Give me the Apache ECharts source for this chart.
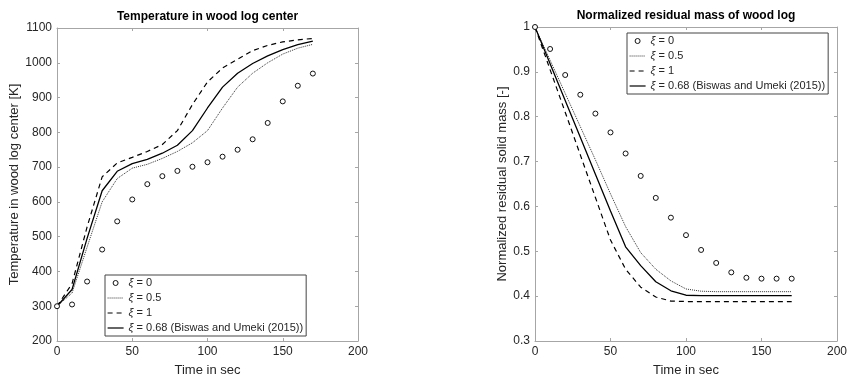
<!DOCTYPE html>
<html>
<head>
<meta charset="utf-8">
<script src="https://cdn.jsdelivr.net/npm/echarts@6/dist/echarts.min.js"></script>
<style>
html,body{margin:0;padding:0;background:#fff;}
#chart{width:850px;height:382px;}
</style>
</head>
<body>
<div id="chart"></div>
<script>
// ---- data ----
var time = [0,10,20,30,40,50,60,70,80,90,100,110,120,130,140,150,160,170];
var seriesNames = ['ξ = 0','ξ = 0.5','ξ = 1','ξ = 0.68 (Biswas and Umeki (2015))'];
var titles = ['Temperature in wood log center','Normalized residual mass of wood log'];
var xAxisName = 'Time in sec';
var yAxisNames = ['Temperature in wood log center [K]','Normalized residual solid mass [-]'];

var tempXi0   = [300,305,371,463,544,607,651,674,689,701,714,730,750,780,827,889,934,969];
var tempXi05  = [300,338,470,600,667,697,708,725,745,770,805,870,930,970,1000,1025,1042,1053];
var tempXi1   = [300,365,528,672,712,728,745,765,805,880,945,985,1010,1035,1050,1060,1066,1070];
var tempXi068 = [300,348,495,632,688,710,722,740,763,805,870,930,970,998,1020,1038,1052,1062];

var massXi0   = [1.0,0.951,0.893,0.849,0.807,0.765,0.718,0.668,0.619,0.575,0.536,0.503,0.474,0.453,0.441,0.439,0.439,0.439];
var massXi05  = [1.0,0.926,0.852,0.778,0.704,0.628,0.555,0.497,0.46,0.434,0.416,0.411,0.41,0.41,0.41,0.41,0.41,0.41];
var massXi1   = [1.0,0.905,0.81,0.715,0.62,0.525,0.46,0.42,0.398,0.389,0.388,0.388,0.388,0.388,0.388,0.388,0.388,0.388];
var massXi068 = [1.0,0.918,0.836,0.754,0.672,0.59,0.51,0.468,0.432,0.412,0.402,0.401,0.401,0.401,0.401,0.401,0.401,0.401];

var xRange = [0, 200, 50];
var tempRange = [200, 1100, 100];
var massRange = [0.3, 1, 0.1];

// ---- helpers ----
var FONT = 'Liberation Sans, Arial, Helvetica, sans-serif';
var AXIS_COLOR = '#a6a6a6';
var TEXT_COLOR = '#262626';

function pairs(arr){ return time.map(function(t,i){ return [t, arr[i]]; }); }

function axis(gridIndex, position, range, showLabel, extra){
  var a = {
    type:'value', gridIndex:gridIndex, position:position,
    min:range[0], max:range[1], interval:range[2],
    axisLine:{show:true, onZero:false, lineStyle:{color:AXIS_COLOR, width:1}},
    axisTick:{show:true, inside:true, length:3, lineStyle:{color:AXIS_COLOR}},
    axisLabel:{show:showLabel, color:TEXT_COLOR, fontSize:12, fontFamily:FONT, margin:5,
      formatter:function(v){ return String(Math.round(v*1000)/1000); }},
    splitLine:{show:false}
  };
  for (var k in extra) a[k] = extra[k];
  return a;
}

function titleAxis(gridIndex, range, title){
  return axis(gridIndex, 'top', range, false, {
    name:title, nameLocation:'middle', nameGap:5,
    nameTextStyle:{fontSize:12, fontWeight:'bold', color:'#000', fontFamily:FONT}
  });
}

function scatterSeries(name, arr, xi, yi){
  return {type:'scatter', name:name, xAxisIndex:xi, yAxisIndex:yi, data:pairs(arr),
    symbol:'circle', symbolSize:5,
    itemStyle:{color:'#fff', borderColor:'#111', borderWidth:1, opacity:1}, z:3};
}
function lineSeries(name, arr, xi, yi, ls){
  return {type:'line', name:name, xAxisIndex:xi, yAxisIndex:yi, data:pairs(arr),
    symbol:'none', showSymbol:false, lineStyle:ls, itemStyle:{color:ls.color}, z:2};
}

var dottedStyle = {color:'#333', width:1, type:[1,1]};
var dashedStyle = {color:'#000', width:1.2, type:[5,4]};
var solidStyle  = {color:'#000', width:1.3, type:'solid'};

function legendAt(left, top){
  var hidden = {color:'rgba(0,0,0,0)', borderWidth:0, opacity:0};
  return {
    left:left, top:top, orient:'vertical',
    data:[
      {name:seriesNames[0], itemStyle:{color:'#fff', borderColor:'#111', borderWidth:1}},
      {name:seriesNames[1], itemStyle:hidden, lineStyle:{width:1, color:'#333', type:[1,1]}},
      {name:seriesNames[2], itemStyle:hidden, lineStyle:{width:1, color:'#000', type:[5,4]}},
      {name:seriesNames[3], itemStyle:hidden, lineStyle:{width:1.2, color:'#000', type:'solid'}}
    ],
    itemWidth:16, itemHeight:5, itemGap:1,
    padding:[1,3,1,2],
    borderColor:'#444', borderWidth:1, backgroundColor:'#fff',
    selectedMode:false,
    textStyle:{fontSize:11, color:TEXT_COLOR, fontFamily:FONT, lineHeight:14,
      rich:{i:{fontStyle:'italic', fontSize:11, color:TEXT_COLOR, fontFamily:FONT, lineHeight:14},
            n:{fontSize:11, color:TEXT_COLOR, fontFamily:FONT, lineHeight:14}}},
    formatter:function(name){ return '{i|ξ}{n|' + name.slice(1) + '}'; }
  };
}

var option = {
  animation:false,
  backgroundColor:'#fff',
  grid:[
    {left:57, width:301, top:28, height:316},
    {left:535, width:303, top:27, height:317}
  ],
  xAxis:[
    axis(0,'bottom',xRange,true,{name:xAxisName, nameLocation:'middle', nameGap:23,
      nameTextStyle:{fontSize:13, color:TEXT_COLOR, fontFamily:FONT}}),
    titleAxis(0, xRange, titles[0]),
    axis(1,'bottom',xRange,true,{name:xAxisName, nameLocation:'middle', nameGap:23,
      nameTextStyle:{fontSize:13, color:TEXT_COLOR, fontFamily:FONT}}),
    titleAxis(1, xRange, titles[1])
  ],
  yAxis:[
    axis(0,'left',tempRange,true,{name:yAxisNames[0], nameLocation:'middle', nameGap:35,
      nameTextStyle:{fontSize:13, color:TEXT_COLOR, fontFamily:FONT}}),
    axis(0,'right',tempRange,false,{}),
    axis(1,'left',massRange,true,{name:yAxisNames[1], nameLocation:'middle', nameGap:24,
      nameTextStyle:{fontSize:13, color:TEXT_COLOR, fontFamily:FONT}}),
    axis(1,'right',massRange,false,{})
  ],
  legend:[ legendAt(105, 275), legendAt(627, 33) ],
  series:[
    scatterSeries(seriesNames[0], tempXi0, 0, 0),
    lineSeries(seriesNames[1], tempXi05, 0, 0, dottedStyle),
    lineSeries(seriesNames[2], tempXi1, 0, 0, dashedStyle),
    lineSeries(seriesNames[3], tempXi068, 0, 0, solidStyle),
    scatterSeries(seriesNames[0], massXi0, 2, 2),
    lineSeries(seriesNames[1], massXi05, 2, 2, dottedStyle),
    lineSeries(seriesNames[2], massXi1, 2, 2, dashedStyle),
    lineSeries(seriesNames[3], massXi068, 2, 2, solidStyle)
  ]
};

var chart = echarts.init(document.getElementById('chart'), null, {renderer:'canvas'});
chart.setOption(option);
</script>
</body>
</html>
